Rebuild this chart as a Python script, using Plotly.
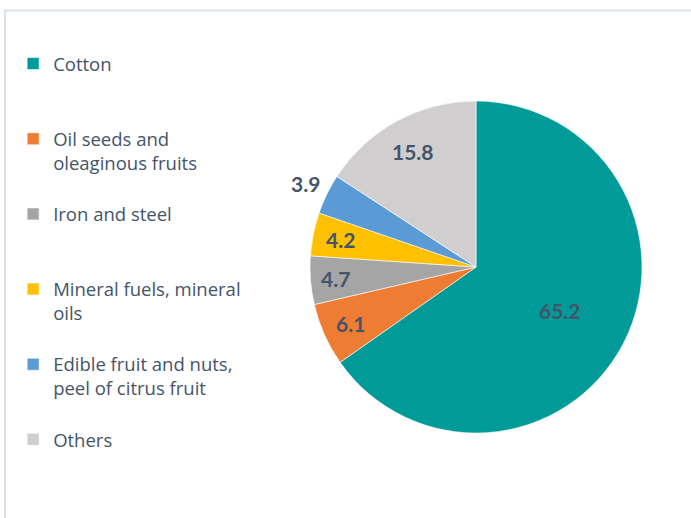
import numpy as np
import plotly.graph_objects as go

# Data
categories = ['Cotton', 'Oil seeds and<br>oleaginous fruits', 'Iron and steel',
              'Mineral fuels, mineral<br>oils', 'Edible fruit and nuts,<br>peel of citrus fruit',
              'Others']
shares = [65.2, 6.1, 4.7, 4.2, 3.9, 15.8]
label_text = ['65.2', '6.1', '4.7', '4.2', '3.9', '15.8']

colors = ['#009B98', '#EE7D33', '#A5A5A5', '#FFC000', '#5B9BD5', '#D0CECE']
label_r = [0.57, 0.83, 0.85, 0.83, 1.14, 0.79]   # label distance from centre (fraction of radius)

TEXT = '#44546A'
W, H = 691, 518

# pad every legend entry to three lines so the entries are evenly spaced
legend_names = []
for c in categories:
    n = c.count('<br>') + 1
    legend_names.append(c + '<br> ' * (3 - n))

dom_x = [0.4486, 0.9291]
dom_y = [0.164, 0.805]

fig = go.Figure()
fig.add_trace(go.Pie(
    labels=legend_names,
    values=shares,
    sort=False,
    direction='clockwise',
    rotation=0,
    textinfo='none',
    marker=dict(colors=colors, line=dict(color='white', width=0.6)),
    domain=dict(x=dom_x, y=dom_y),
    hoverinfo='label+value',
))

# data labels on the slice bisectors (angles from the shares)
vals = np.array(shares)
mid_theta = np.radians((np.cumsum(vals) - vals / 2) / vals.sum() * 360)
cx, cy = np.mean(dom_x), np.mean(dom_y)
R = min((dom_x[1] - dom_x[0]) * W, (dom_y[1] - dom_y[0]) * H) / 2
annotations = []
for t, r, s in zip(mid_theta, label_r, label_text):
    annotations.append(dict(
        x=cx + r * R * np.sin(t) / W, y=cy + r * R * np.cos(t) / H,
        xref='paper', yref='paper', xanchor='center', yanchor='middle',
        text=s, showarrow=False,
        font=dict(family='Lato', size=21, color=TEXT, weight='bold'),
    ))

fig.update_layout(
    width=W, height=H,
    margin=dict(l=0, r=0, t=0, b=0),
    paper_bgcolor='white',
    font=dict(family='Open Sans', color=TEXT),
    legend=dict(
        x=0.019, y=0.913, xanchor='left', yanchor='top',
        valign='top',
        font=dict(family='Open Sans', size=18.5, color=TEXT),
        bgcolor='rgba(0,0,0,0)',
    ),
    annotations=annotations,
    shapes=[dict(type='rect', xref='paper', yref='paper',
                 x0=5 / W, x1=1.02, y0=-0.02, y1=1 - 10.5 / H,
                 line=dict(color='#DCE1E9', width=2))],
)

fig.write_html('out.html', config={'displayModeBar': False},
               post_script="document.body.style.margin='0';")
